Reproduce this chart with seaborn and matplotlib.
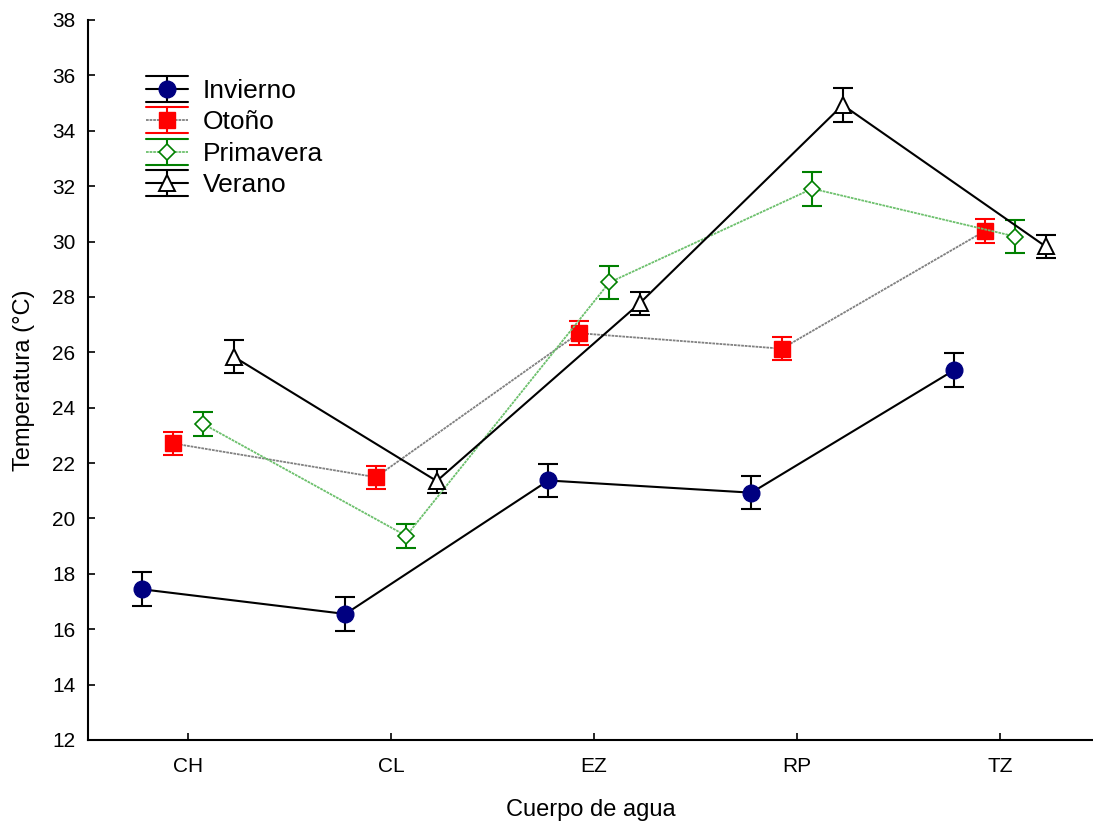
import matplotlib
matplotlib.use("Agg")
import matplotlib.pyplot as plt
import pandas as pd
import seaborn as sns
from matplotlib.lines import Line2D
from matplotlib.legend_handler import HandlerBase

# Water bodies and seasons
cuerpos = ["CH", "CL", "EZ", "RP", "TZ"]
estaciones = ["Invierno", "Otoño", "Primavera", "Verano"]

# Mean temperature (°C) per season and water body
invierno = [17.44, 16.55, 21.37, 20.93, 25.36]
otono = [22.71, 21.49, 26.69, 26.13, 30.38]
primavera = [23.41, 19.37, 28.52, 31.91, 30.18]
verano = [25.84, 21.35, 27.77, 34.93, 29.82]

# Error bar half-widths (°C)
invierno_err = [0.61, 0.61, 0.61, 0.59, 0.60]
otono_err = [0.42, 0.42, 0.43, 0.42, 0.43]
primavera_err = [0.42, 0.43, 0.61, 0.61, 0.61]
verano_err = [0.60, 0.42, 0.42, 0.61, 0.42]

y_ticks = list(range(12, 39, 2))

medias = [invierno, otono, primavera, verano]
errores = [invierno_err, otono_err, primavera_err, verano_err]

df = pd.DataFrame(
    [(c, e, v) for e, vals in zip(estaciones, medias) for c, v in zip(cuerpos, vals)],
    columns=["cuerpo", "estacion", "temp"],
)

# Visual style of each season: line, marker, error bars
estilos = [
    dict(line="black", ls="-", lw=1.5, marker="o", ms=12, mfc="#000080", mec="#000080", mew=1.0, err="black"),
    dict(line="#808080", ls=(0, (1.5, 0.5)), lw=1.3, marker="s", ms=11, mfc="#ff0000", mec="#ff0000", mew=1.0, err="#ff0000"),
    dict(line="#6cc06c", ls=(0, (1.5, 0.5)), lw=1.3, marker="D", ms=8.5, mfc="white", mec="#008000", mew=1.2, err="#008000"),
    dict(line="black", ls="-", lw=1.5, marker="^", ms=12, mfc="white", mec="black", mew=1.4, err="black"),
]

sns.set_theme(style="ticks")
plt.rcParams["font.family"] = ["Liberation Sans", "DejaVu Sans"]
plt.rcParams["text.color"] = "black"
plt.rcParams["axes.labelcolor"] = "black"
plt.rcParams["xtick.color"] = "black"
plt.rcParams["ytick.color"] = "black"

fig = plt.figure(figsize=(10.93, 8.22), dpi=100)
ax = fig.add_axes([0.0805, 0.0998, 0.9195, 0.8759])

sns.pointplot(
    data=df, x="cuerpo", y="temp", hue="estacion",
    order=cuerpos, hue_order=estaciones,
    dodge=0.45, errorbar=None,
    palette=[s["line"] for s in estilos],
    markers=[s["marker"] for s in estilos],
    linestyles=["-"] * 4,
    legend=False, ax=ax,
)

series_lines = list(ax.lines[:4])
for ln, s, err in zip(series_lines, estilos, errores):
    ln.set_color(s["line"])
    ln.set_linestyle(s["ls"])
    ln.set_linewidth(s["lw"])
    ln.set_marker(s["marker"])
    ln.set_markersize(s["ms"])
    ln.set_markerfacecolor(s["mfc"])
    ln.set_markeredgecolor(s["mec"])
    ln.set_markeredgewidth(s["mew"])
    ln.set_zorder(3)
    ax.errorbar(
        ln.get_xdata(), ln.get_ydata(), yerr=err, fmt="none",
        ecolor=s["err"], elinewidth=1.5, capsize=7.5, capthick=1.5, zorder=2.5,
    )


class SeasonHandler(HandlerBase):
    """Legend key: series line, vertical error bar and full-width caps, marker."""

    def __init__(self, style):
        super().__init__()
        self.style = style

    def create_artists(self, legend, orig_handle, xdescent, ydescent,
                       width, height, fontsize, trans):
        s = self.style
        x0, x1 = -xdescent, -xdescent + width
        y0, y1 = -ydescent - 0.17 * height, -ydescent + 1.17 * height
        xm, ym = (x0 + x1) / 2, (y0 + y1) / 2
        arts = [
            Line2D([x0, x1], [ym, ym], color=s["line"], lw=s["lw"], ls=s["ls"]),
            Line2D([xm, xm], [y0, y1], color=s["err"], lw=1.5),
            Line2D([x0, x1], [y0, y0], color=s["err"], lw=1.5),
            Line2D([x0, x1], [y1, y1], color=s["err"], lw=1.5),
            Line2D([xm], [ym], ls="none", marker=s["marker"], ms=s["ms"],
                   mfc=s["mfc"], mec=s["mec"], mew=s["mew"]),
        ]
        for a in arts:
            a.set_transform(trans)
        return arts


proxies = [Line2D([], []) for _ in estaciones]
leg = ax.legend(
    proxies, estaciones,
    handler_map={p: SeasonHandler(s) for p, s in zip(proxies, estilos)},
    loc="upper left", bbox_to_anchor=(0.058, 0.918),
    frameon=False, fontsize=19, borderpad=0, borderaxespad=0,
    handlelength=1.6, handleheight=0.75, handletextpad=0.55, labelspacing=0.28,
)
for t in leg.get_texts():
    t.set_color("black")

ax.set_xlim(-0.493, 4.458)
ax.set_ylim(12, 38)
ax.set_yticks(y_ticks)
ax.set_xticks(range(len(cuerpos)))
ax.set_xticklabels(cuerpos)

ax.set_xlabel("Cuerpo de agua", fontsize=17, labelpad=17)
ax.set_ylabel("Temperatura (°C)", fontsize=17, labelpad=12)

ax.tick_params(axis="both", direction="in", length=5, width=1.2, labelsize=15)
ax.tick_params(axis="y", pad=9)
ax.tick_params(axis="x", pad=12)

sns.despine(ax=ax)
for side in ("left", "bottom"):
    ax.spines[side].set_linewidth(1.5)
    ax.spines[side].set_color("black")

fig.savefig("out.png", dpi=100)
